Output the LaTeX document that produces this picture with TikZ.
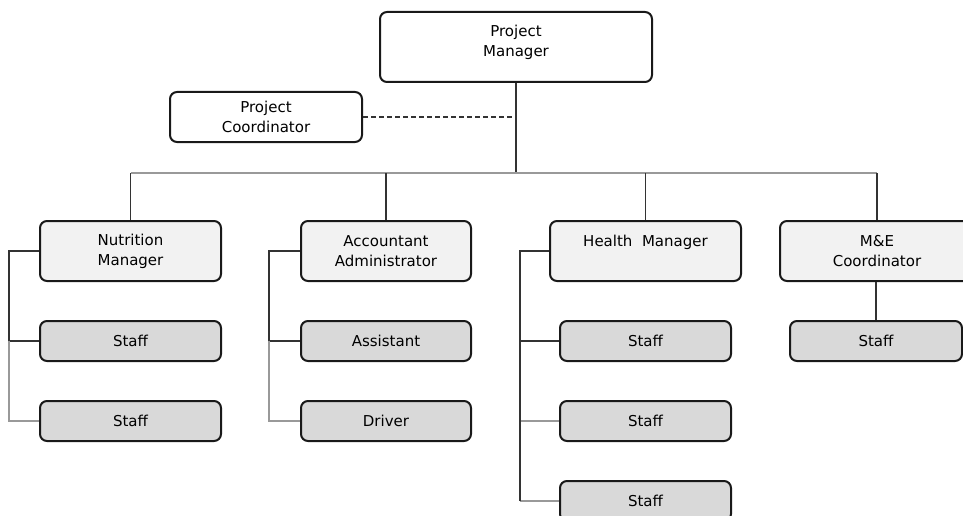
\documentclass[tikz,border=0pt]{standalone}
\usepackage{fontspec}
\setmainfont{DejaVu Sans}
\definecolor{headfill}{HTML}{F2F2F2}
\definecolor{stafffill}{HTML}{D9D9D9}
\tikzset{
  orgbox/.style={draw=black!90, line width=2pt, rounded corners=7pt, fill=white, align=center,
    inner sep=0pt, font=\fontsize{15}{20}\selectfont},
  headbox/.style={orgbox, fill=headfill, minimum height=60pt},
  staffbox/.style={orgbox, fill=stafffill, minimum height=40pt},
  darkline/.style={draw=black!80, line width=1.5pt},
  lightline/.style={draw=black!40, line width=1.5pt},
}
\begin{document}
\begin{tikzpicture}[x=1pt, y=-1pt]
        \useasboundingbox (0,0) rectangle (963,516);

        \node [orgbox, minimum width=272pt, minimum height=70pt] (pm) at (516,47) {Project\\Manager\\[-8pt]};
        \node [orgbox, minimum width=192pt, minimum height=50pt] (pc) at (266,117) {Project\\Coordinator};

        \node [headbox, minimum width=181pt] (nut) at (130.5,251) {Nutrition\\Manager};
        \node [headbox, minimum width=170pt] (acc) at (386,251) {Accountant\\Administrator};
        \node [headbox, minimum width=191pt] (hlt) at (645.5,251) {Health~~Manager\\\mbox{}};
        \node [headbox, minimum width=194pt] (mne) at (877,251) {M\&E\\Coordinator};

        \node [staffbox, minimum width=181pt] (nutA) at (130.5,341) {Staff};
        \node [staffbox, minimum width=181pt] (nutB) at (130.5,421) {Staff};
        \node [staffbox, minimum width=170pt] (accA) at (386,341) {Assistant};
        \node [staffbox, minimum width=170pt] (accB) at (386,421) {Driver};
        \node [staffbox, minimum width=171pt] (hltA) at (645.5,341) {Staff};
        \node [staffbox, minimum width=171pt] (hltB) at (645.5,421) {Staff};
        \node [staffbox, minimum width=171pt] (hltC) at (645.5,501) {Staff};
        \node [staffbox, minimum width=172pt] (mneA) at (876,341) {Staff};

        \coordinate (bus) at (516,173);
        \draw [darkline] (pm.south) -- (bus);
        \draw [darkline, dash pattern=on 5pt off 3pt, line width=1.2pt] (pc.east) -- (pc.east -| pm.south);
        \draw [lightline] (nut.north |- bus) -- (mne.north |- bus);
        \draw [darkline] (nut.north |- bus) -- (nut.north);
        \draw [darkline] (acc.north |- bus) -- (acc.north);
        \draw [darkline] (hlt.north |- bus) -- (hlt.north);
        \draw [darkline] (mne.north |- bus) -- (mne.north);

        \draw [darkline] (nut.west) -- ++(-30,0) |- (nutA.west);
        \draw [lightline] (nutA.west) ++(-30,0) |- (nutB.west);
        \draw [darkline] (acc.west) -- ++(-31,0) |- (accA.west);
        \draw [lightline] (accA.west) ++(-31,0) |- (accB.west);
        \draw [darkline] (hlt.west) -- ++(-29,0) |- (hltA.west);
        \draw [lightline] (hltB.west) -- ++(-39,0);
        \draw [lightline] (hltC.west) -- ++(-39,0);
        \draw [darkline] (hltA.west) ++(-39,0) -- ++(0,160);
        \draw [darkline] (mne.south -| mneA.north) -- (mneA.north);
\end{tikzpicture}
\end{document}
